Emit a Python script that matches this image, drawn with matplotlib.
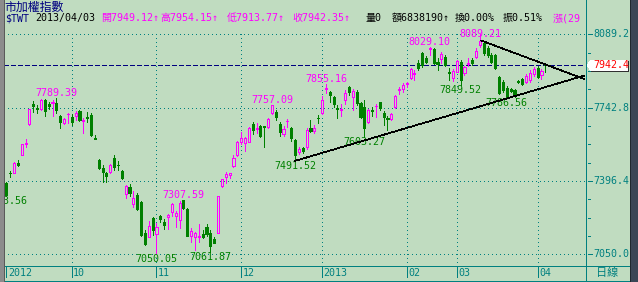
import matplotlib
matplotlib.use('Agg')
import matplotlib.pyplot as plt
import matplotlib.transforms as mtransforms
import numpy as np

# daily OHLC, 2012/09 .. 2013/04/03 (index = trading day)
opens = [7387, 7436, 7436, 7482, 7519, 7571, 7664, 7758, 7743, 7737,
         7779, 7758, 7765, 7764, 7704, 7669, 7711, 7700, 7705, 7727,
         7682, 7699, 7708, 7600, 7496, 7456, 7436, 7437, 7507, 7474,
         7444, 7335, 7369, 7288, 7330, 7296, 7151, 7133, 7220, 7144,
         7232, 7204, 7225, 7251, 7232, 7212, 7307, 7262, 7138, 7133,
         7132, 7144, 7180, 7152, 7121, 7152, 7373, 7414, 7423, 7469,
         7519, 7582, 7575, 7582, 7666, 7644, 7658, 7655, 7650, 7716,
         7724, 7666, 7619, 7678, 7645, 7590, 7535, 7551, 7558, 7648,
         7634, 7695, 7719, 7833, 7818, 7792, 7742, 7733, 7779, 7842,
         7792, 7818, 7767, 7747, 7677, 7730, 7749, 7768, 7719, 7694,
         7688, 7745, 7828, 7830, 7855, 7882, 7902, 7954, 8000, 7976,
         8021, 8019, 7959, 7972, 7984, 7912, 7882, 7913, 7960, 7905,
         7950, 7968, 7984, 8039, 8047, 8024, 7992, 7992, 7887, 7866,
         7834, 7829, 7827, 7868, 7877, 7866, 7874, 7902, 7930, 7897,
         7949.12]
highs = [7392, 7444, 7486, 7496, 7571, 7595, 7737, 7775, 7756, 7782,
         7784, 7770, 7779, 7789.39, 7708, 7694, 7719, 7713, 7727, 7732,
         7694, 7723, 7718, 7614, 7500, 7472, 7439, 7477, 7519, 7491,
         7448, 7378, 7382, 7349, 7341, 7302, 7165, 7207, 7226, 7198,
         7236, 7217, 7241, 7292, 7255, 7302, 7307.59, 7269, 7174, 7155,
         7192, 7165, 7192, 7165, 7133, 7326, 7406, 7440, 7436, 7519,
         7587, 7629, 7604, 7652, 7677, 7669, 7661, 7656, 7693, 7757.09,
         7732, 7675, 7656, 7688, 7652, 7595, 7558, 7556, 7645, 7685,
         7661, 7708, 7798, 7855.16, 7822, 7796, 7756, 7760, 7827, 7845,
         7831, 7827, 7771, 7779, 7737, 7748, 7760, 7772, 7725, 7704,
         7716, 7803, 7842, 7858, 7866, 7929, 7921, 7968, 8006, 7987,
         8029.10, 8023, 7978, 8006, 7992, 7929, 7926, 7968, 7968, 7940,
         7976, 7979, 8024, 8089.21, 8058, 8034, 8001, 7997, 7893, 7874,
         7845, 7836, 7831, 7874, 7883, 7902, 7921, 7935, 7940, 7926,
         7954.15]
lows = [7323.56, 7415, 7434, 7467, 7519, 7558, 7663, 7724, 7718, 7734,
        7705, 7737, 7705, 7716, 7648, 7666, 7669, 7661, 7685, 7680,
        7623, 7675, 7611, 7594, 7453, 7393, 7393, 7434, 7448, 7448,
        7406, 7315, 7326, 7275, 7259, 7137, 7096, 7132, 7141, 7050.05,
        7203, 7170, 7170, 7231, 7179, 7174, 7266, 7137, 7110, 7070,
        7110, 7128, 7137, 7061.87, 7102, 7151, 7368, 7388, 7409, 7464,
        7515, 7571, 7538, 7581, 7617, 7622, 7604, 7558, 7645, 7713,
        7685, 7609, 7609, 7653, 7585, 7491.52, 7524, 7527, 7548, 7629,
        7624, 7669, 7713, 7814, 7771, 7748, 7693, 7704, 7760, 7803,
        7732, 7756, 7692, 7603.27, 7672, 7704, 7697, 7732, 7661, 7637,
        7685, 7740, 7808, 7817, 7839, 7877, 7874, 7921, 7937, 7954,
        7992, 7951, 7921, 7954, 7940, 7874, 7870, 7912, 7849.52, 7897,
        7940, 7945, 7976, 8030, 7992, 7982, 7954, 7926, 7808, 7817,
        7786.56, 7817, 7793, 7858, 7850, 7860, 7864, 7893, 7883, 7877,
        7913.77]
closes = [7330, 7434, 7480, 7472, 7570, 7576, 7737, 7753, 7735, 7779,
          7727, 7753, 7772, 7732, 7674, 7688, 7715, 7677, 7716, 7685,
          7687, 7695, 7614, 7596, 7456, 7437, 7421, 7472, 7464, 7470,
          7412, 7373, 7338, 7315, 7264, 7141, 7099, 7184, 7165, 7180,
          7216, 7189, 7236, 7288, 7244, 7291, 7270, 7138, 7160, 7149,
          7135, 7133, 7146, 7089, 7105, 7326, 7404, 7429, 7433, 7507,
          7582, 7598, 7598, 7645, 7637, 7649, 7610, 7652, 7688, 7756,
          7700, 7630, 7642, 7682, 7598, 7519, 7546, 7540, 7637, 7634,
          7648, 7692, 7779, 7837, 7803, 7760, 7738, 7738, 7814, 7818,
          7822, 7764, 7697, 7645, 7732, 7726, 7753, 7743, 7697, 7691,
          7713, 7798, 7831, 7850, 7858, 7924, 7907, 7930, 7945, 7960,
          8024, 7955, 7949, 7995, 7945, 7907, 7916, 7963, 7874, 7937,
          7954, 7953, 8012, 8060, 8000, 7992, 7960, 7929, 7811, 7827,
          7795, 7824, 7803, 7864, 7855, 7893, 7908, 7924, 7889, 7917,
          7942.35]

month_pos = [0, 17, 39, 61, 82, 104, 117, 138]
month_lbl = ['2012', '10', '11', '12', '2013', '02', '03', '04']
grid_prices = [7050.0, 7396.4, 7742.8, 8089.2]
last_close = 7942.35
hi_marks = [13, 46, 69, 83, 110, 123]
hi_shift = [2, 2, 2, 2, 2, -3]          # px above the high
lo_marks = [0, 39, 53, 75, 93, 118, 130]
up_x, up_y = [75, 150.3], [7491.52, 7895.5]
dn_x, dn_y = [123.4, 150.3], [8060, 7877]

header = [(5, '$TWT', '#000080'), (35, '2013/04/03', 'black'),
          (101.5, '開7949.12↑', '#FF00FF'), (160, '高7954.15↑', '#FF00FF'),
          (226.5, '低7913.77↑', '#FF00FF'), (292.5, '收7942.35↑', '#FF00FF'),
          (365.5, '量0', 'black'), (392, '額6838190↑', 'black'),
          (455, '換0.00%', 'black'), (503, '振0.51%', 'black'),
          (553, '漲(29', '#FF00FF')]

BG = '#C0DCC0'
TEAL = '#008080'
MAG = '#FF00FF'
GRN = '#008000'
NAVY = '#000080'
PX = 0.72  # one pixel in points at dpi 100
MONO = ['DejaVu Sans Mono', 'Noto Sans CJK TC']
FS = 7.2

plt.rcParams['lines.antialiased'] = False
plt.rcParams['patch.antialiased'] = False

fig = plt.figure(figsize=(6.38, 2.82), dpi=100, facecolor=BG)
ax = fig.add_axes([4 / 638, 16 / 282, 581 / 638, 266 / 282])
ax.set_facecolor(BG)
for s in ax.spines.values():
    s.set_visible(False)
ax.set_xticks([])
ax.set_yticks([])
x0, x1 = -0.6, 150.3
y0, y1 = 6994.7, 8251.8

o = np.array(opens, dtype=float)
h = np.array(highs, dtype=float)
l = np.array(lows, dtype=float)
c = np.array(closes, dtype=float)
idx = np.arange(len(o))
up = c >= o
cols = np.where(up, MAG, GRN)

# grid
dots = (0, (1, 3))
ax.hlines(grid_prices, x0, x1, colors=TEAL, linestyles=dots, lw=PX, zorder=1)
ax.vlines(month_pos[1:], y0, 8106, colors=TEAL, linestyles=dots, lw=PX, zorder=1)
ax.axhline(last_close, color=NAVY, ls=(0, (5, 2.5)), lw=PX, zorder=1.5)

# candles
ax.vlines(idx, l, h, colors=cols, lw=PX, zorder=2)
ax.bar(idx[up], (c - o)[up], bottom=o[up], width=0.55, color=BG,
       edgecolor=MAG, linewidth=PX, zorder=3)
ax.bar(idx[~up], (o - c)[~up], bottom=c[~up], width=0.55, color=GRN,
       edgecolor=GRN, linewidth=PX, zorder=3)

# extreme labels
for i, dy in zip(hi_marks, hi_shift):
    ax.annotate(f'{h[i]:.2f}', (i, h[i]), xytext=(0, dy * PX),
                textcoords='offset points', ha='center', va='baseline',
                color=MAG, fontsize=FS, family=MONO, zorder=4)
for i in lo_marks:
    ax.annotate(f'{l[i]:.2f}', (i, l[i]), xytext=(0, 0),
                textcoords='offset points', ha='center', va='top',
                color=GRN, fontsize=FS, family=MONO, zorder=4, clip_on=True)

# trend lines
ax.plot(up_x, up_y, color='black', lw=0.5, zorder=5)
ax.plot(dn_x, dn_y, color='black', lw=0.5, zorder=5)

ax.set_xlim(x0, x1)
ax.set_ylim(y0, y1)

# overlay in pixel coordinates for frame, header, axis strips
ov = fig.add_axes([0, 0, 1, 1])
ov.patch.set_visible(False)
ov.axis('off')
ov.set_xlim(0, 638)
ov.set_ylim(282, 0)
ov.set_autoscale_on(False)
bx = mtransforms.blended_transform_factory(ax.transData, ov.transData)
by = mtransforms.blended_transform_factory(ov.transData, ax.transData)

# header
ov.text(4, 7, '市加權指數', color=NAVY, fontsize=8.6,
        family=['Noto Sans CJK TC'], va='center', ha='left')
for xp, txt, col in header:
    ov.text(xp, 18.3, txt, color=col, fontsize=FS, family=MONO,
            va='center', ha='left', clip_on=False)

# right price axis
ov.vlines(585.5, 0, 281, colors=TEAL, lw=PX)
for p in grid_prices:
    ov.hlines(p, 588, 592, colors=TEAL, lw=PX, transform=by)
    ov.text(593, p, f'{p:.1f}', color=TEAL, fontsize=FS, family=MONO,
            va='center', ha='left', transform=by)
minor = np.linspace(grid_prices[0], grid_prices[-1], 13)
minor = [m for k, m in enumerate(minor) if k % 4]
ov.hlines(minor, 588, 590, colors=TEAL, lw=PX, transform=by)

# last price flag
yc = ov.transData.inverted().transform(ax.transData.transform((0, last_close)))[1]
ov.add_patch(plt.Polygon([(588, yc + 1), (592, yc - 4), (629, yc - 4),
                          (629, yc + 6), (592, yc + 6)], closed=True,
                         fc='#303030', ec='none'))
ov.add_patch(plt.Polygon([(587, yc), (591, yc - 5), (628, yc - 5),
                          (628, yc + 5), (591, yc + 5)], closed=True,
                         fc='white', ec='none'))
ov.text(593, last_close, f'{last_close:.1f}', color='red', fontsize=FS,
        family=MONO, va='center', ha='left', transform=by)

# bottom date strip
ov.hlines(266, 4, 630, colors=TEAL, lw=PX)
ov.hlines(280.5, 4, 630, colors=TEAL, lw=PX)
ov.vlines(month_pos, 267, 277, colors=TEAL, lw=PX, transform=bx)
for m, lbl in zip(month_pos, month_lbl):
    ov.annotate(lbl, (m, 272.5), xycoords=bx, xytext=(1.5 * PX, 0),
                textcoords='offset points', va='center', ha='left',
                color=TEAL, fontsize=FS, family=MONO)
ov.text(607, 273, '日線', color=TEAL, fontsize=8, family=['Noto Sans CJK TC'],
        va='center', ha='center')

# outer frame
ov.add_patch(plt.Rectangle((0, 0), 3.5, 282, color='#8C8C8C', lw=0))
ov.vlines(3.5, 0, 282, colors='#5A5A5A', lw=PX)
ov.add_patch(plt.Rectangle((630, 0), 8, 282, color='#3A4656', lw=0))
ov.vlines(629.5, 0, 282, colors='#1E2830', lw=PX)

fig.savefig('out.png', dpi=100, facecolor=BG)
